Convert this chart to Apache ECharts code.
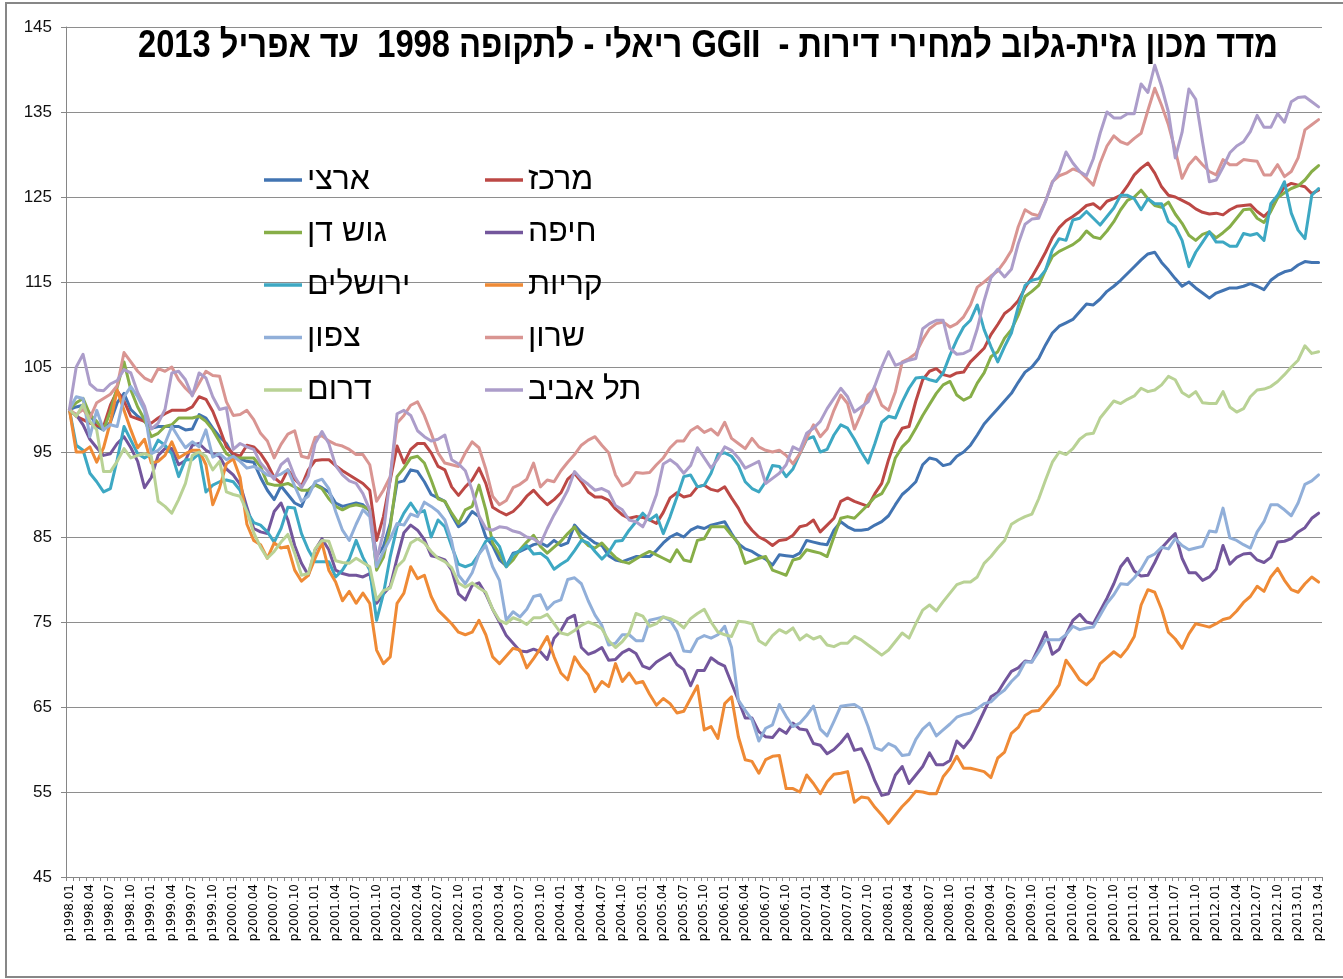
<!DOCTYPE html>
<html><head><meta charset="utf-8">
<script src="https://cdn.jsdelivr.net/npm/echarts@6/dist/echarts.min.js"></script>
<style>html,body{margin:0;padding:0;background:#fff}#c{width:1343px;height:979px}</style>
</head><body><div id="c"></div>
<script>
// ---- categories (monthly, Jan 1998 .. Apr 2013) ----
const categories = [];
for (let y = 1998; y <= 2013; y++) {
  for (let m = 1; m <= 12; m++) {
    if (y === 2013 && m > 4) break;
    categories.push('p' + y + '.' + (m < 10 ? '0' : '') + m);
  }
}
const yTickMin = 45, yTickMax = 145, yTickStep = 10;
const titleText = 'מדד מכון גזית-גלוב למחירי דירות -  GGII ריאלי - לתקופה 1998  עד אפריל 2013';
const seriesNames = ['ארצי','מרכז','גוש דן','חיפה','ירושלים','קריות','צפון','שרון','דרום','תל אביב'];
const seriesColors = ['#4274B2','#BC4845','#87AE48','#73569C','#3DA8C3','#EF8A35','#91AFD9','#D99592','#B9D295','#AC9DCA'];

const artzi = [
100,100.3,100.5,99.5,98,97.6,98.5,100.8,101.9,100,99.2,98.6,
97.8,98,98,98,98,97.6,97.7,99.4,99,97.8,96.8,96,
94.5,94.2,93.9,93.8,92,90.5,89.4,91,90,89,88.6,90.5,
91.2,90.8,90.3,89,88.6,88.8,89,88.8,88,82.7,83.9,86.6,
91.4,91.6,92.9,92.7,91.5,90,89.6,89.2,87.6,86.2,86.8,88,
87.4,85,84,82.3,81.6,83.1,83.3,83.7,84.1,84.3,83.9,84.6,
84,84.3,86.4,85.5,84.9,84.3,84,82.8,82.3,82.1,82.4,82.7,
82.7,82.7,83.4,84.3,85,85.4,85,85.8,86.2,86,86.4,86.6,
86.8,85.4,84.2,83.6,83.3,82.8,82.4,81.7,82.9,82.8,82.7,83.1,
84.6,84.4,84.2,84.1,85.8,86.8,86.2,85.8,85.8,85.9,86.4,86.8,
87.5,88.8,90,90.7,91.5,93.5,94.3,94.1,93.4,93.6,94.5,95,
95.8,97,98.3,99.2,100.1,101,101.9,103.2,104.4,105,106,107.6,
109,109.8,110.2,110.6,111.5,112.4,112.3,113,113.9,114.5,115.2,116,
116.8,117.6,118.3,118.5,117.3,116.4,115.4,114.5,115,114.3,113.7,113.1,
113.7,114,114.3,114.3,114.5,114.8,114.5,114.1,115.2,115.8,116.2,116.4,
117,117.4,117.3,117.3];

const merkaz = [
100,99.2,98.8,98.4,98.1,98,100.5,102.2,101,99.2,98.9,98.6,
98.4,99,99.5,99.9,99.9,99.9,100.3,101.5,101.2,99.8,97.8,95.6,
94.8,94.5,95.8,95.6,94.8,93.6,92,91.3,92.9,91.8,91,92.9,
94,94.1,94.1,93.4,92.8,92.3,91.8,91.3,90.5,84.6,87.4,91.7,
95.7,93.7,95.3,96,96,94.9,93.3,92.9,90.9,89.9,90.9,91.7,
93.1,91.3,88.5,88,87.6,88,88.8,89.8,90.5,89.6,88.8,89.4,
90.2,91.8,92.5,91.5,90.3,89.7,89.7,89.3,88.3,87.6,87.2,87.4,
87.3,87,86.6,87.9,89.6,90.2,89.7,89.9,90.9,91.1,90.6,90.4,
90.9,89.6,88.4,86.8,85.8,85,84.6,84,84.6,84.7,85.2,86.2,
86.4,87,85.6,86.4,87.2,89.2,89.6,89.2,88.9,88.6,90.1,91.3,
94.1,96.4,97.8,98,101,103.5,104.5,104.8,104.1,103.9,104.3,104.4,
105.6,106.4,107.2,108.8,110,111.3,111.9,112.8,114.3,115.6,117,118.5,
120.2,121.4,122.2,122.7,123.3,124,124.2,123.6,124.5,124.8,125.2,126.3,
127.6,128.4,129,127.8,126.2,125.2,125,124.6,124.2,123.6,123.2,123,
123.1,122.9,123.5,123.9,124,124.1,123.3,122.7,123.5,125,126.2,126.6,
126.4,126.2,125.4,125.8];

const gushDan = [
100,100.8,101.3,99.4,98.6,97.6,99.8,102.6,105.6,102.3,100.3,98.8,
96.8,97.2,98,98.2,99,99,99,99.2,98.6,97.6,96.2,94.8,
94.3,94.3,94.3,94.3,93.3,91.3,91.1,91.1,91.3,90.9,90.5,90.5,
91.1,90.7,89.5,88.6,88.2,88.6,88.8,88.6,88.2,81.1,82.6,86.2,
92.1,93.1,94.3,94.5,93.7,91.7,89.5,89.2,87.8,86.6,88.2,88.6,
91.1,88.2,84.3,83,81.5,82.3,83.5,84.4,85.2,83.9,83.1,83.8,
84.5,85.4,86.2,84.8,84,83.7,84.3,83.4,82.6,82.1,81.9,82.4,
82.9,83.3,82.9,82.5,82.1,83.5,82.3,82.1,84.6,84.8,86.2,86.2,
86.2,85.2,84.3,81.9,82.2,82.5,82.7,81.1,80.8,80.5,82.3,82.5,
83.5,83.3,83.1,82.7,85,87.2,87.4,87.2,88,88.8,89.7,90.1,
91.5,94.3,95.6,96.4,97.8,99.3,100.6,101.9,102.9,103.3,101.7,101.1,
101.5,103.1,104.3,106.2,106.8,108.4,109.4,111.1,113.3,113.9,114.6,116.4,
118,118.6,119,119.4,120,121,120.3,120.1,121,122.1,123.5,124.6,
125,125.8,124.8,124,123.8,124.4,123,121.9,120.5,119.9,120.6,120.9,
120.2,120.8,121.5,122.5,123.5,123.6,122.5,122,123.3,124.9,125.5,126,
126.3,127,128,128.7];

const haifa = [
99.8,99.4,98.2,96.5,95.5,94.6,94.8,96,96.8,95.5,93.9,90.8,
92,94.6,95.4,95.4,93.5,94,95.8,96,95.2,94.8,94.5,93,
92.3,91.2,88.5,86,85.6,85.4,88,89,87,84,81.9,80.5,
83.5,84.8,83.5,81.1,80.7,80.5,80.5,80.3,80.7,77.2,78.3,79.2,
82.5,85.5,86.4,85.8,84.7,82.8,82.6,82.3,81.1,78.3,77.6,79.3,
79.6,78.3,76.5,75,73.4,72.5,71.6,71.5,71.8,71.5,70.6,73.1,
74,75.4,75.8,72,71.2,71.5,72,70.5,70.6,71.4,71.8,71.3,
69.8,69.5,70.3,70.8,71.3,70,69.4,67.5,69.3,69.3,70.8,70.2,
69.8,67.8,65.8,63.7,63.7,62.1,61.5,61.4,62.4,61.9,63.1,62.4,
62.3,60.7,60.5,59.5,60,60.8,61.8,59.9,60.1,58.4,56.3,54.6,
54.8,57,58,56,57,58,59.6,58.2,58.2,58.7,61,60.2,
61.2,62.8,64.5,66.2,66.7,68,69.2,69.6,70.4,70.3,72,73.8,
71.2,71.8,73.5,75.2,75.9,75,74.8,76.3,77.8,79.5,81.5,82.5,
81,80.4,80.5,82,83.7,84.6,85.4,82.5,80.8,80.8,79.9,80.3,
81.2,84,81.8,82.6,83,83.1,82.3,82,82.6,84.4,84.5,84.8,
85.6,86.1,87.2,87.8];

const jerusalem = [
100,95.8,95.2,92.5,91.5,90.3,90.7,94.1,98,96.4,94.8,94.3,
94.8,96.4,95.8,94.8,92.1,94.1,94.1,94.8,90.3,91.1,91.5,91.7,
91.5,90.5,88,86.7,86.4,85.6,84.4,86,88.5,88.4,85.4,83.5,
82.1,82.1,82.1,80.3,81.1,82.4,84.6,82.6,81.1,75.2,78.3,82.7,
86.2,87.8,89,87.8,88.1,85,87,86.2,83.9,81.8,81.5,81.8,
83,84.5,84.9,83.9,81.5,82.9,83.4,84,83,83.1,82.5,81.2,
81.8,82.3,83.4,84.6,84.3,83.3,82.4,83.2,84.5,84.6,85.8,86.8,
87.8,87,87.6,85.4,87.4,89.7,92.1,92.3,90.9,91.1,92.5,94.7,
94.9,94.5,93.4,91.5,90.7,90.3,91.5,93.4,93.3,92.1,93,94.8,
96.5,96.8,95,95.3,97,98.2,97.8,96.5,95,93.7,96,98.5,
99.2,99,100.9,102.5,103.7,103.8,103.5,103.3,104.3,106.4,108.2,109.7,
110.5,112.3,109.4,107.4,105.6,107.4,109,112.1,114.6,115.2,115.4,116.4,
118.8,120.1,119.9,122.3,122.5,123.3,122.5,121.7,122.7,123.7,125.2,125.2,
124.8,123.5,124.8,124.2,124.2,122.1,121.5,119.9,116.8,118.5,119.7,120.9,
119.7,119.7,119.2,119.2,120.7,120.5,120.7,119.9,124.2,125.2,126.8,123.1,
121.1,120.1,125.2,126];

const krayot = [
100,95,95,95.6,93.8,95.5,98.5,102.3,99.9,97.6,95.5,96.5,
93.7,93.9,94.6,96.2,94.3,94.8,95.2,95.2,93.5,88.8,90.8,93.6,
94.2,92,86.5,84.6,84.1,82.5,84.3,83.7,83.9,81.1,79.8,80.5,
82.5,84.3,81.1,79.7,77.5,78.6,77.2,78.4,77.2,71.7,70.1,70.9,
77.2,78.4,81.5,80.1,80.5,78,76.4,75.6,74.8,73.8,73.5,73.8,
75.2,73.5,70.9,70.1,71,71.9,71.7,69.6,70.7,71.9,73.3,70.9,
69,68.2,70.9,69.7,68.8,66.8,68,67.4,70.1,68,69,67.8,
68,66.5,65.2,66,65.4,64.3,64.5,66,67.5,62.3,62.7,61.3,
65.4,66.2,61.5,58.8,58.6,57.2,58.8,59.2,59.3,55.4,55.4,55,
57,56,54.8,56.2,57.1,57.2,57.4,53.8,54.4,54.3,53.2,52.3,
51.3,52.3,53.3,54.1,55.1,55,54.8,54.8,56.8,57.8,59.2,57.8,
57.8,57.6,57.4,56.7,59,59.7,61.9,62.6,64,64.5,64.6,65.5,
66.5,67.6,70.5,69.4,68.2,67.6,68.4,70.1,70.8,71.5,70.9,71.9,
73.3,77,78.8,78.5,76.5,73.8,73,71.9,73.6,74.8,74.6,74.4,
74.8,75.3,75.5,76.3,77.3,78,79.2,78.6,80.3,81.3,79.9,78.8,
78.5,79.5,80.3,79.7];

const tzafon = [
100,101.5,101.3,96.8,99.9,97.6,98.2,98,101.5,102.7,101.5,99.9,
94.8,95.2,96,98,96.7,95.5,96.2,95.6,97.6,94.4,94.8,94.1,
94.5,93.9,93.1,93.3,92.9,92.3,92.1,92.4,92.9,91,89.2,89.8,
91.5,91.8,90.7,88,85.8,84.6,86.5,88.2,87.4,81.5,83.3,84.8,
86.6,86.4,87.7,87.4,89.1,88.6,88,87,84.5,80.5,79.5,80.8,
83,84,81.5,79.9,75.2,76.2,75.6,76.5,78,78.2,76.5,77.3,
77.6,80,80.2,79.5,77.5,75.8,74.6,72.3,72.5,73.5,73.5,72.8,
72.8,75.2,75.4,75.6,75.2,73.9,71.6,71.5,73,73.4,73.1,73.5,
74.5,72,65.8,64.6,63.5,61,62.5,62.9,65.3,63.9,62.7,63.1,
64,65.1,62.4,61.6,63.3,65.1,65.2,65.3,64.8,62.7,60.2,59.9,
60.7,60.3,59.3,59.4,61.2,62.4,63.1,61.6,62.3,63,63.8,64.1,
64.3,64.8,65.4,65.6,66.4,67,68,68.8,70.3,70.3,71.5,72.9,
72.9,72.9,73.5,74.5,74.1,74.3,74.4,75.8,77.2,78.2,79.5,79.4,
80.2,81.2,82.6,83,83.8,83.6,84.8,84,83.5,83.7,83.9,85.7,
85.6,88.4,84.9,84.6,84.1,83.7,85.6,86.8,88.8,88.8,88.2,87.5,
89,91.2,91.6,92.3];

const sharon = [
100,99.4,100,99,100.8,101.3,101.8,102.8,106.7,105.6,104.5,103.7,
103.3,104.8,104.5,105,103.5,102.5,101.7,103.1,104.5,104,103.9,100.9,
99.3,99.4,99.9,98.8,97.2,96.3,94.3,95.9,97.1,97.5,94.5,94.3,
96.7,96.9,96.3,95.9,95.7,95.3,94.7,94.7,93.5,89.2,90.5,92.1,
98.4,99.3,100.5,100.9,99.3,97.2,94.9,93.7,93.5,93.3,94.9,96.2,
95.5,93,89.8,88.8,89.3,90.8,91.2,91.8,93.7,90.9,91.7,91.5,
92.8,93.8,94.7,95.8,96.4,96.8,95.8,94.9,92.3,91,91.4,92.6,
92.5,92.6,93.5,94.3,95.5,96.3,96.3,97.5,98,97.3,97.7,97,
98.5,96.6,96,95.4,96.6,95.6,95.2,95,95.2,94.6,93.6,94.8,
96.6,98.2,96.8,97.7,99.9,101.7,100.7,97.7,99.5,101.7,102.5,100.5,
99.9,102.1,105.6,106,106.6,108.2,109.5,110.1,110.3,109.7,110.1,110.9,
112.3,114.4,115,115.7,116.3,117.4,118.7,121.5,123.5,123,122.8,124.5,
126.8,127.5,127.8,128.3,128,127.2,126.4,129,131,132.2,131.5,131.2,
131.9,132.5,135.2,137.8,135.8,133.5,130.5,127.2,128.8,129.7,128.8,128,
127.6,129.4,128.8,128.8,129.4,129.3,129.2,127.6,127.6,128.8,127.4,128,
129.6,132.9,133.5,134.1];

const darom = [
100,99.2,100.6,98.6,97.6,92.7,92.7,93.9,95.4,94.3,94.6,94.8,
94.5,89.2,88.6,87.8,89.4,91.3,94.6,95,94.5,92.9,93.9,90.3,
90,89.8,88,85.5,83.8,82.5,83.3,84.4,85.3,83.1,80.5,80.7,
83.6,84.6,84.5,82.2,82,81.9,82.5,82,81.5,77.6,78.7,79,
81.5,82.3,84.3,84.8,84.3,83.3,82.5,82.1,81.4,79.6,79.1,79.6,
79,78.5,76.5,75.2,74.8,75.5,75.2,74.7,75.5,75.5,75.9,74.8,
73.7,73.5,74,74.6,75,74.7,74.2,72.8,72,72.7,73.7,76,
75.7,74.5,74.8,75.6,75.4,75,74.3,75.4,76,76.5,75,73.8,
73.5,73.3,75.1,75,74.8,72.8,72.3,73.4,74.1,73.7,74.3,72.9,
73.5,73,73.3,72.3,72.1,72.5,72.5,73.3,72.9,72.3,71.7,71.1,
71.7,72.7,73.7,73.1,74.8,76.4,77,76.3,77.4,78.4,79.4,79.7,
79.7,80.3,81.9,82.7,83.7,84.6,86.5,87,87.4,87.7,89.5,91.7,
93.8,95,94.7,95.4,96.5,97.1,97.2,99,100,101,100.7,101.2,
101.6,102.5,102.1,102.3,102.9,103.9,103.5,102,101.5,102.1,100.8,100.7,
100.7,102.1,100.3,99.7,100.1,101.5,102.3,102.4,102.7,103.3,104.1,105,
105.8,107.5,106.6,106.8];

const telAviv = [
100,105,106.5,103,102.3,102.2,103,103.4,104.7,104.3,102,100.4,
97.7,98.4,100,104.3,104.5,103.5,101.6,104.3,103.7,101.5,100,100.2,
95.3,96,95.6,95.3,93.7,92.8,91.8,93.5,94.2,92.1,90.8,92.2,
96,97.4,96,93.4,92.3,91.6,91.3,90.1,88.2,82.3,85.5,92,
99.5,99.9,99.3,97.5,96.8,96.3,96.5,97,94.1,93.6,92.8,90.5,
87.5,86,85.8,86.2,86.1,85.7,85.5,85,84.8,84.2,86,87.6,
89,90.5,92.7,91.8,91.2,90.5,90.7,90.3,88.7,88.2,87,86.8,
86.2,87.8,90,93.6,94.1,93.5,92.5,93.4,95.5,94.3,93.1,94.2,
95.6,95.2,94.3,93.1,93.5,93.9,91.3,91.9,92.5,93.5,95.6,95.2,
97.2,97.8,98.6,100.1,101.3,102.5,101.5,99.7,100.3,100.9,102.8,105,
106.8,105.2,105.5,105.8,106,109.5,110.1,110.5,110.5,107.2,106.5,106.6,
107,109.5,112.8,115.5,116.5,115.6,116.5,119.5,121.8,122.4,122.5,124.5,
126.7,128,130.3,129,128,127.5,129.5,132.5,135,134.3,134.3,134.8,
134.8,138.3,137.3,140.5,138,135,129.6,132.6,137.7,136.5,131.5,126.8,
127,128.5,130.2,131,131.5,132.7,134.6,133.2,133.2,134.8,133.8,136.2,
136.7,136.8,136.2,135.6];

const seriesData = [artzi, merkaz, gushDan, haifa, jerusalem, krayot, tzafon, sharon, darom, telAviv];

const chart = echarts.init(document.getElementById('c'), null, {renderer: 'canvas'});

const legends = seriesNames.map((n, k) => ({
  data: [n],
  left: (k % 2 === 0) ? 264 : 485,
  top: 163 + Math.floor(k / 2) * 52.5,
  orient: 'horizontal',
  padding: 0,
  icon: 'rect',
  itemWidth: 38,
  itemHeight: 3.5,
  itemGap: 0,
  selectedMode: false,
  textStyle: {fontSize: 32, fontFamily: '"Liberation Sans", "DejaVu Sans", sans-serif', color: '#000', lineHeight: 34, padding: [0, 0, 0, 0]}
}));

chart.setOption({
  animation: false,
  backgroundColor: '#fff',
  grid: {left: 66, right: 21, top: 27, bottom: 102, containLabel: false, outerBoundsMode: 'none'},
  legend: legends,
  graphic: [
    {type: 'rect', shape: {x: 6, y: 3, width: 1345, height: 974}, style: {fill: 'none', stroke: '#878787', lineWidth: 2}, z: -10, silent: true},
    {type: 'text', x: 708, y: 47, scaleX: 0.86, z: 100, silent: true,
     style: {text: '\u202B' + titleText + '\u202C', font: 'bold 38px "Liberation Sans", "DejaVu Sans", sans-serif', fill: '#000', align: 'center', verticalAlign: 'middle', textAlign: 'center', textVerticalAlign: 'middle'}}
  ],
  xAxis: {
    type: 'category', data: categories, boundaryGap: true,
    axisLine: {show: true, lineStyle: {color: '#868686', width: 1}},
    axisTick: {show: true, interval: 0, length: 4, lineStyle: {color: '#868686'}},
    axisLabel: {interval: 2, rotate: 90, fontSize: 12, fontFamily: '"DejaVu Sans", sans-serif', color: '#000', margin: 7},
    splitLine: {show: false}
  },
  yAxis: {
    type: 'value', min: yTickMin, max: yTickMax, interval: yTickStep,
    axisLine: {show: true, lineStyle: {color: '#868686', width: 1}},
    axisTick: {show: true, length: 5, lineStyle: {color: '#868686'}},
    axisLabel: {fontSize: 17, fontFamily: '"Liberation Sans", sans-serif', color: '#111', margin: 14},
    splitLine: {show: true, lineStyle: {color: '#8e8e8e', width: 1}}
  },
  series: seriesNames.map((n, k) => ({
    name: n, type: 'line', data: seriesData[k],
    symbol: 'none', showSymbol: false, smooth: false,
    lineStyle: {width: 3, color: seriesColors[k], join: 'round', cap: 'round'},
    itemStyle: {color: seriesColors[k]},
    emphasis: {disabled: true}
  }))
});
</script>
</body></html>
